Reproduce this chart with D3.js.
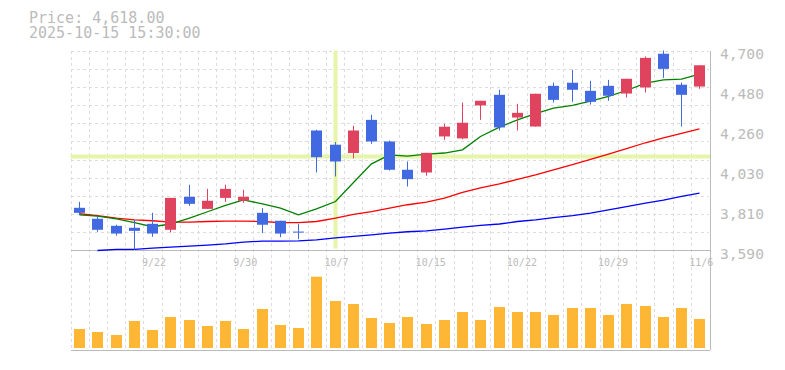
<!DOCTYPE html>
<html>
<head>
<meta charset="utf-8">
<script src="https://cdn.jsdelivr.net/npm/d3@7"></script>
<style>
  body { margin: 0; background: #fff; }
  text { font-family: "DejaVu Sans Mono", monospace; fill: #bbb; }
</style>
</head>
<body>
<div id="chart"></div>
<script>
// daily candles, 9/16 .. 11/6
var dates = ["9/16","9/17","9/18","9/19","9/22","9/24","9/25","9/26","9/29","9/30",
  "10/1","10/2","10/3","10/6","10/7","10/8","10/9","10/10","10/14","10/15",
  "10/16","10/17","10/20","10/21","10/22","10/23","10/24","10/27","10/28","10/29",
  "10/30","10/31","11/4","11/5","11/6"]
var open = [3827,3766,3727,3716,3738,3705,3888,3821,3882,3866,3799,3755,3695,4256,4177,4131,4315,4195,4038,4023,4223,4212,4395,4454,4328,4278,4504,4521,4476,4504,4461,4495,4682,4510,4500]
var high = [3860,3777,3733,3760,3799,3882,3955,3932,3955,3927,3825,3755,3738,4260,4192,4282,4343,4200,4084,4132,4293,4411,4421,4482,4404,4460,4522,4593,4532,4537,4543,4667,4700,4522,4618]
var low = [3788,3694,3672,3594,3666,3690,3838,3821,3860,3855,3687,3664,3653,4023,4001,4101,4182,4034,3945,4005,4204,4208,4315,4256,4256,4278,4411,4415,4400,4421,4439,4467,4548,4278,4487]
var close = [3799,3705,3684,3699,3684,3882,3849,3866,3932,3888,3733,3684,3693,4108,4084,4256,4195,4038,3986,4132,4277,4299,4421,4273,4354,4460,4426,4482,4415,4449,4543,4659,4598,4454,4618]
var volume = [76,64,52,108,72,124,112,88,108,76,156,92,80,285,188,176,120,100,124,96,112,144,112,164,144,144,132,160,160,132,176,168,124,160,116]
// moving averages (short / mid / long)
var ma5 = [3788,3781,3766,3745,3722,3737,3770,3805,3840,3871,3849,3825,3788,3821,3862,3967,4071,4121,4114,4125,4131,4149,4223,4275,4315,4349,4380,4395,4419,4445,4478,4519,4537,4541,4569]
var ma25 = [3794,3784,3770,3760,3755,3748,3748,3751,3753,3753,3751,3745,3745,3751,3770,3790,3806,3825,3844,3859,3881,3912,3938,3960,3985,4010,4038,4066,4096,4125,4156,4188,4215,4240,4265]
var ma75 = [null,3590,3596,3596,3603,3609,3614,3620,3627,3637,3642,3642,3643,3649,3660,3668,3677,3687,3694,3699,3709,3720,3730,3737,3751,3760,3773,3784,3798,3816,3834,3853,3870,3890,3909]

var yTickValues = [3590, 3812, 4034, 4256, 4478, 4700]
var yTickLabels = ["3,590", "3,810", "4,030", "4,260", "4,480", "4,700"]
var xTickDates = ["9/22", "9/30", "10/7", "10/15", "10/22", "10/29", "11/6"]

var priceText = "Price: 4,618.00"
var timeText = "2025-10-15 15:30:00"
var crossDate = "10/7"
var crossPrice = 4112

var data = dates.map(function (d, i) {
    return { date: d, open: open[i], high: high[i], low: low[i], close: close[i], volume: volume[i] }
})

var dims = { left: 70.5, right: 709, top: 50.5, priceBottom: 250.5, bottom: 350 }

var svg = d3.select("#chart").append("svg")
    .attr("width", 785)
    .attr("height", 370)

var x = d3.scaleBand()
    .domain(dates)
    .range([dims.left, dims.right])
    .padding(0)

var y = d3.scaleLinear()
    .domain([3590, 4700])
    .range([dims.priceBottom, dims.top])

var yVol = d3.scaleLinear()
    .domain([0, d3.max(volume)])
    .range([348, 276.7])

var candleW = 11
function boxX(d) { return Math.round(x(d) + x.bandwidth() / 2 - candleW / 2) }
function mid(d) { return boxX(d) + candleW / 2 }

// grid
var grid = svg.append("g")
    .attr("stroke", "#ddd")
    .attr("stroke-dasharray", "3,3")
    .attr("shape-rendering", "crispEdges")

var edges = dates.map(function (d) { return x(d) })
grid.selectAll(".v")
    .data(edges)
    .enter().append("line")
    .attr("x1", function (d) { return Math.round(d) + 0.5 })
    .attr("x2", function (d) { return Math.round(d) + 0.5 })
    .attr("y1", dims.top)
    .attr("y2", dims.bottom)

var hVals = d3.range(1, 12).map(function (k) { return 3590 + k * (1110 / 11) })
grid.selectAll(".h")
    .data(hVals)
    .enter().append("line")
    .attr("x1", dims.left)
    .attr("x2", dims.right)
    .attr("y1", function (d) { return Math.round(y(d)) + 0.5 })
    .attr("y2", function (d) { return Math.round(y(d)) + 0.5 })

// crosshair
svg.append("line")
    .attr("x1", mid(crossDate)).attr("x2", mid(crossDate))
    .attr("y1", dims.top).attr("y2", dims.priceBottom - 2)
    .attr("stroke", "#e6f5a9").attr("stroke-width", 4)
svg.append("line")
    .attr("x1", dims.left).attr("x2", dims.right + 1)
    .attr("y1", y(crossPrice)).attr("y2", y(crossPrice))
    .attr("stroke", "#e6f5a9").attr("stroke-width", 4)

// axes lines
var axes = svg.append("g").attr("stroke", "#bbb").attr("shape-rendering", "crispEdges")
axes.append("line").attr("x1", dims.left).attr("x2", dims.right + 1).attr("y1", dims.priceBottom).attr("y2", dims.priceBottom)
axes.append("line").attr("x1", dims.left).attr("x2", dims.right + 1).attr("y1", dims.bottom).attr("y2", dims.bottom)
axes.append("line").attr("x1", dims.right + 1).attr("x2", dims.right + 1).attr("y1", dims.top).attr("y2", dims.bottom)

// volume
svg.selectAll(".vol")
    .data(data)
    .enter().append("rect")
    .attr("x", function (d) { return boxX(d.date) })
    .attr("y", function (d) { return yVol(d.volume) })
    .attr("width", candleW)
    .attr("height", function (d) { return yVol(0) - yVol(d.volume) })
    .attr("fill", "#feb734")

// moving averages
function maLine(arr, color) {
    var line = d3.line()
        .defined(function (d) { return d != null })
        .x(function (d, i) { return mid(dates[i]) })
        .y(function (d) { return y(d) })
    svg.append("path")
        .datum(arr)
        .attr("d", line)
        .attr("fill", "none")
        .attr("stroke", color)
        .attr("stroke-width", 1.3)
}
maLine(ma75, "#0000ff")
maLine(ma25, "#ff0000")
maLine(ma5, "#008000")

// candles
var up = "#e0435e", down = "#4169e1"
var c = svg.selectAll(".candle")
    .data(data)
    .enter().append("g")
c.append("line")
    .attr("x1", function (d) { return mid(d.date) })
    .attr("x2", function (d) { return mid(d.date) })
    .attr("y1", function (d) { return y(d.high) })
    .attr("y2", function (d) { return y(d.low) })
    .attr("stroke", function (d) { return d.close > d.open ? up : down })
    .attr("stroke-width", 1)
c.append("rect")
    .attr("x", function (d) { return boxX(d.date) })
    .attr("y", function (d) { return y(Math.max(d.open, d.close)) })
    .attr("width", candleW)
    .attr("height", function (d) { return Math.max(1, Math.abs(y(d.open) - y(d.close))) })
    .attr("fill", function (d) { return d.close > d.open ? up : down })

// y labels
svg.selectAll(".yl")
    .data(yTickValues)
    .enter().append("text")
    .attr("x", 720)
    .attr("y", function (d) { return y(d) + 8 })
    .style("font-size", "14.6px")
    .text(function (d, i) { return yTickLabels[i] })

// x labels
svg.selectAll(".xl")
    .data(xTickDates)
    .enter().append("text")
    .attr("x", function (d) { return x(d) - 1.5 })
    .attr("y", 266)
    .style("font-size", "10px")
    .text(function (d) { return d })

// header
svg.append("text").attr("x", 29).attr("y", 22.5).style("font-size", "15px").text(priceText)
svg.append("text").attr("x", 29).attr("y", 37.5).style("font-size", "15px").text(timeText)
</script>
</body>
</html>
